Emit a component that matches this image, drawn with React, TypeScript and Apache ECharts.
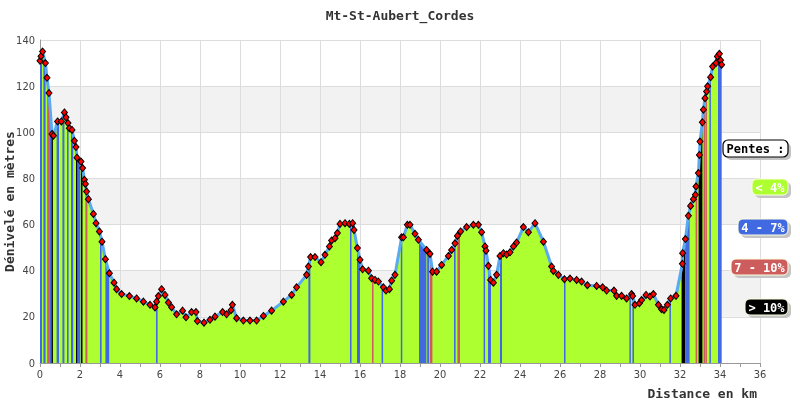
import React, { useEffect, useRef } from "react";
import * as echarts from "echarts";

const TITLE = "Mt-St-Aubert_Cordes";

const KM = [
  0, 0.05, 0.13, 0.27, 0.35, 0.45, 0.6, 0.67, 0.88, 1.07, 1.22, 1.3, 1.4, 1.47, 1.6, 1.72, 1.8, 1.85, 2.05, 2.13,
  2.22, 2.27, 2.33, 2.42, 2.67, 2.8, 2.97, 3.1, 3.27, 3.47, 3.7, 3.83, 4.08, 4.47, 4.83, 5.17, 5.5, 5.75, 5.83, 5.92,
  6.08, 6.25, 6.42, 6.58, 6.83, 7.13, 7.3, 7.58, 7.8, 7.87, 8.2, 8.5, 8.75, 9.13, 9.33, 9.55, 9.62, 9.83, 10.17, 10.5,
  10.83, 11.17, 11.58, 12.17, 12.58, 12.83, 13.33, 13.42, 13.53, 13.75, 14.05, 14.25, 14.47, 14.58, 14.75, 14.87, 15.0, 15.25, 15.47, 15.63,
  15.7, 15.87, 16.0, 16.13, 16.42, 16.58, 16.75, 16.92, 17.17, 17.3, 17.47, 17.58, 17.75, 18.08, 18.17, 18.37, 18.5, 18.75, 18.92, 19.33,
  19.5, 19.63, 19.83, 20.08, 20.42, 20.58, 20.75, 20.87, 21.03, 21.33, 21.67, 21.92, 22.08, 22.25, 22.3, 22.42, 22.53, 22.67, 22.83, 23.0,
  23.17, 23.33, 23.5, 23.67, 23.83, 24.17, 24.42, 24.75, 25.17, 25.58, 25.67, 25.92, 26.22, 26.5, 26.83, 27.08, 27.37, 27.83, 28.13, 28.33,
  28.7, 28.83, 29.08, 29.33, 29.58, 29.63, 29.75, 29.97, 30.08, 30.3, 30.5, 30.67, 30.92, 31.08, 31.2, 31.37, 31.53, 31.8, 32.12, 32.13,
  32.27, 32.42, 32.53, 32.67, 32.77, 32.8, 32.92, 32.97, 33.0, 33.12, 33.17, 33.25, 33.33, 33.38, 33.53, 33.63, 33.8, 33.87, 33.97, 34.03,
  34.08,
];

const ELEV = [
  131, 133, 135, 130, 123.6, 117, 99.3, 98.5, 104.7, 104.7, 108.6, 106.5, 104, 101.8, 101, 96.3, 93.6, 89, 87.3, 84.5,
  79.4, 77.6, 74.3, 71, 64.6, 60.6, 57, 52.6, 45, 38.9, 34.8, 32, 29.9, 29, 28, 26.6, 25.2, 24.1, 26.6, 29,
  32, 29.5, 26.2, 24.2, 21.1, 22.7, 19.8, 22.1, 22.1, 18.2, 17.5, 18.7, 20.1, 22.1, 21.1, 22.9, 25.2, 19.4, 18.4, 18.4,
  18.4, 20.4, 22.7, 26.6, 29.5, 32.8, 38.2, 41.8, 45.9, 45.9, 43.7, 46.9, 50.5, 53.1, 54.1, 56.3, 60.3, 60.6, 60.3, 60.6,
  57.7, 49.8, 44.7, 40.6, 40, 36.7, 36, 35.3, 32.8, 31.4, 32, 35.7, 38.2, 54.5, 54.5, 59.9, 59.9, 56, 53.4, 49,
  47.3, 39.6, 39.6, 42.5, 46.4, 49, 51.9, 55.1, 57, 58.9, 59.9, 59.9, 56.7, 50.5, 48.7, 42.1, 36, 34.8, 38.2, 46.4,
  47.6, 47, 48, 50.5, 52.2, 58.9, 56.7, 60.6, 52.6, 41.8, 39.9, 38.2, 36.3, 36.6, 36, 35.3, 33.7, 33.4, 32.8, 31.4,
  31.4, 29.1, 29.1, 28, 29.9, 29, 25.2, 25.9, 27.3, 29.5, 28.8, 29.9, 25.2, 23.3, 23, 25.2, 28, 29.1, 43, 47.6,
  53.7, 63.8, 68.1, 71, 72.9, 76.5, 82.3, 90.2, 96, 104.3, 109.8, 114.8, 117.7, 119.9, 123.9, 128.5, 130, 132.9, 134, 131.2,
  129.3,
];

// slope bands: [start km, end km, category] 1 = 4-7%, 2 = 7-10%, 3 = >10%
const BANDS = [
  [0.0, 0.1, 1], [0.17, 0.28, 1], [0.36, 0.47, 2], [0.47, 0.56, 1], [0.57, 0.64, 3],
  [0.83, 0.95, 1], [1.12, 1.22, 1], [1.35, 1.43, 1], [1.55, 1.66, 1], [1.8, 1.88, 3],
  [1.88, 2.02, 1], [2.05, 2.12, 3], [2.27, 2.37, 2], [3.0, 3.08, 1], [3.27, 3.46, 1],
  [5.8, 5.88, 1], [13.42, 13.52, 1], [15.5, 15.56, 1], [15.85, 16.0, 1], [16.6, 16.65, 2],
  [17.08, 17.13, 1], [18.04, 18.1, 1], [18.95, 19.32, 1], [19.36, 19.46, 1], [19.5, 19.62, 2],
  [20.7, 20.78, 1], [20.87, 21.0, 2], [22.18, 22.24, 1], [22.4, 22.55, 1], [23.0, 23.1, 1],
  [26.2, 26.25, 1], [29.47, 29.51, 1], [29.62, 29.7, 1], [31.47, 31.53, 1], [32.08, 32.26, 3],
  [32.26, 32.48, 1], [32.78, 32.86, 2], [32.93, 33.12, 3], [33.18, 33.22, 2], [33.27, 33.31, 2],
  [33.47, 33.53, 1], [33.9, 34.08, 1],
];

const SLOPE_COLORS = ["#adff2f", "#4169e1", "#cd5c5c", "#000000"];
const LEGEND_LABELS = ["< 4%", "4 - 7%", "7 - 10%", "> 10%"];

const MONO = "'DejaVu Sans Mono', monospace";
const COND = "'DejaVu Sans Condensed', 'DejaVu Sans', sans-serif";

function elevAt(km: number): number {
  if (km <= KM[0]) return ELEV[0];
  for (let i = 1; i < KM.length; i++) {
    if (km <= KM[i]) {
      const t = (km - KM[i - 1]) / (KM[i] - KM[i - 1]);
      return ELEV[i - 1] + t * (ELEV[i] - ELEV[i - 1]);
    }
  }
  return ELEV[ELEV.length - 1];
}

function legendBox(x: number, y: number, w: number, h: number, fill: string, stroke: string, label: string, textColor: string, lw: number) {
  return {
    type: "group",
    children: [
      { type: "rect", shape: { x: x + 3, y: y + 3, width: w, height: h, r: 5 }, style: { fill: "#c4c4c4" }, z: 100 },
      { type: "rect", shape: { x, y, width: w, height: h, r: 5 }, style: { fill, stroke, lineWidth: lw }, z: 101 },
      {
        type: "text",
        x: x + w / 2,
        y: y + h / 2 + 0.5,
        style: { text: label, fill: textColor, font: `bold 12px ${MONO}`, textAlign: "center", textVerticalAlign: "middle" },
        z: 102,
      },
    ],
  };
}

export default function App() {
  const ref = useRef<HTMLDivElement>(null);
  useEffect(() => {
    if (!ref.current) return;
    const chart = echarts.init(ref.current, null, { renderer: "svg" });
    const profile = KM.map((k, i) => [k, ELEV[i]]);
    const legendPos = [
      [752, 179, 36],
      [738, 219, 50],
      [731, 259, 57],
      [745, 299, 43],
    ];
    const graphics: any[] = [
      legendBox(723, 140, 65, 17, "#ffffff", "#000000", "Pentes :", "#000000", 1.2),
      ...legendPos.map((p, i) => legendBox(p[0], p[1], p[2], 16, SLOPE_COLORS[i], "#ffffdd", LEGEND_LABELS[i], "#ffffff", 1)),
    ];
    chart.setOption({
      animation: false,
      title: {
        text: TITLE,
        left: "center",
        top: 4,
        textStyle: { fontFamily: MONO, fontWeight: "bold", fontSize: 13, color: "#333" },
      },
      grid: { left: 40, right: 40, top: 40, bottom: 37, outerBoundsMode: "none", containLabel: false },
      xAxis: {
        type: "value",
        min: 0,
        max: 36,
        interval: 2,
        name: "Distance en km",
        nameLocation: "end",
        nameGap: -3,
        nameMoveOverlap: false,
        nameTextStyle: { fontFamily: MONO, fontWeight: "bold", fontSize: 13, color: "#333", align: "right", verticalAlign: "top", padding: [24, 0, 0, 0] },
        axisLine: { show: true, lineStyle: { color: "#999" } },
        axisTick: { show: true, length: 4, lineStyle: { color: "#999" } },
        minorTick: { show: true, splitNumber: 2, length: 4, lineStyle: { color: "#999" } },
        splitLine: { show: true, lineStyle: { color: "#dddddd" } },
        axisLabel: { fontFamily: COND, fontSize: 11, color: "#444", margin: 6 },
      },
      yAxis: {
        type: "value",
        min: 0,
        max: 140,
        interval: 20,
        name: "Dénivelé en mètres",
        nameLocation: "middle",
        nameGap: 24,
        nameMoveOverlap: false,
        nameTextStyle: { fontFamily: MONO, fontWeight: "bold", fontSize: 13, color: "#333" },
        axisLine: { show: true, lineStyle: { color: "#999" } },
        axisTick: { show: false },
        splitLine: { show: true, lineStyle: { color: "#dddddd" } },
        splitArea: { show: true, areaStyle: { color: ["#ffffff", "#f2f2f2"] } },
        axisLabel: { fontFamily: COND, fontSize: 11, color: "#444", margin: 5 },
      },
      series: [
        {
          type: "line",
          data: profile,
          symbol: "none",
          lineStyle: { width: 0 },
          areaStyle: { color: SLOPE_COLORS[0], opacity: 1 },
          z: 1,
          silent: true,
        },
        {
          type: "custom",
          data: BANDS,
          encode: { x: [0, 1] },
          clip: true,
          z: 2,
          renderItem: (params: any, api: any) => {
            const x0 = api.value(0);
            const x1 = api.value(1);
            const cat = api.value(2);
            const a = api.coord([x0, 0]);
            const b = api.coord([x0, elevAt(x0)]);
            const c = api.coord([x1, elevAt(x1)]);
            const d = api.coord([x1, 0]);
            if (d[0] - a[0] < 1.5) {
              c[0] = b[0] + 1.5;
              d[0] = a[0] + 1.5;
            }
            return {
              type: "polygon",
              shape: { points: [a, b, c, d] },
              style: { fill: SLOPE_COLORS[cat] },
            };
          },
        },
        {
          type: "line",
          data: profile,
          symbol: "diamond",
          symbolSize: [6, 7],
          showAllSymbol: true,
          lineStyle: { color: "#5aaaf0", width: 3 },
          itemStyle: { color: "#ff0000", borderColor: "#000", borderWidth: 1 },
          z: 3,
        },
      ],
      graphic: graphics,
    });
    return () => chart.dispose();
  }, []);
  return <div ref={ref} style={{ position: "fixed", left: 0, top: 0, width: 800, height: 400 }} />;
}
